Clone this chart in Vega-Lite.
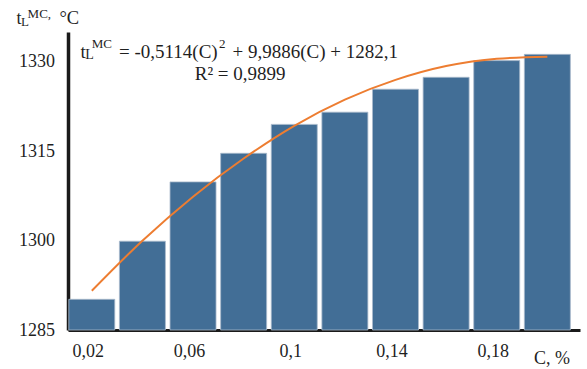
{
  "$schema": "https://vega.github.io/schema/vega-lite/v6.json",
  "width": 512,
  "height": 298,
  "autosize": {"type": "none"},
  "padding": {"left": 68, "top": 32, "right": 7, "bottom": 39},
  "background": "white",
  "config": {
    "view": {"stroke": null},
    "font": "Liberation Serif",
    "axis": {"labelFont": "Liberation Serif", "titleFont": "Liberation Serif"},
    "text": {"font": "Liberation Serif", "color": "#1f1f1f", "align": "left", "baseline": "alphabetic"}
  },
  "datasets": {
    "melt": [
      {"C": 0.02, "t": 1290.15},
      {"C": 0.04, "t": 1299.9},
      {"C": 0.06, "t": 1309.85},
      {"C": 0.08, "t": 1314.65},
      {"C": 0.10, "t": 1319.5},
      {"C": 0.12, "t": 1321.55},
      {"C": 0.14, "t": 1325.4},
      {"C": 0.16, "t": 1327.4},
      {"C": 0.18, "t": 1330.2},
      {"C": 0.20, "t": 1331.25}
    ],
    "trend": [
      {"C": 0.02, "t": 1291.58},
      {"C": 0.04, "t": 1299.98},
      {"C": 0.06, "t": 1307.37},
      {"C": 0.08, "t": 1313.77},
      {"C": 0.10, "t": 1319.26},
      {"C": 0.12, "t": 1323.65},
      {"C": 0.14, "t": 1326.96},
      {"C": 0.16, "t": 1329.28},
      {"C": 0.18, "t": 1330.52},
      {"C": 0.20, "t": 1330.85}
    ]
  },
  "layer": [
    {
      "data": {"name": "melt"},
      "mark": {"type": "bar", "width": 46, "color": "#426e96", "stroke": "#a9bacb", "strokeWidth": 0.8},
      "encoding": {
        "x": {
          "field": "C",
          "type": "quantitative",
          "scale": {"domain": [0.0106, 0.2129], "nice": false, "zero": false, "padding": 0},
          "axis": {
            "title": "C, %",
            "values": [0.02, 0.06, 0.1, 0.14, 0.18],
            "labelExpr": "replace(format(datum.value, '.2~f'), '.', ',')",
            "ticks": false,
            "grid": false,
            "domainColor": "#1a1a1a",
            "domainWidth": 3,
            "labelFont": "Liberation Serif",
            "labelFontSize": 18,
            "labelColor": "#1f1f1f",
            "labelBaseline": "alphabetic",
            "labelPadding": 26,
            "labelOffset": -4,
            "labelFlush": false,
            "titleFont": "Liberation Serif",
            "titleFontSize": 18,
            "titleFontWeight": "normal",
            "titleColor": "#1f1f1f",
            "titleX": 483.5,
            "titleY": 33,
            "titleAlign": "center",
            "titleBaseline": "alphabetic"
          }
        },
        "y": {
          "field": "t",
          "type": "quantitative",
          "scale": {"domain": [1285, 1335], "nice": false, "zero": false, "padding": 0},
          "axis": {
            "title": null,
            "values": [1285, 1300, 1315, 1330],
            "format": "d",
            "ticks": false,
            "grid": false,
            "domainColor": "#1a1a1a",
            "domainWidth": 3.5,
            "labelFont": "Liberation Serif",
            "labelFontSize": 18,
            "labelColor": "#1f1f1f",
            "labelPadding": 13.5,
            "labelFlush": false
          }
        },
        "y2": {"datum": 1285}
      }
    },
    {
      "data": {"name": "trend"},
      "mark": {"type": "line", "color": "#ed7d31", "strokeWidth": 2, "interpolate": "monotone"},
      "encoding": {
        "x": {"field": "C", "type": "quantitative"},
        "y": {"field": "t", "type": "quantitative"}
      }
    },
    {
      "data": {"values": [{}]},
      "layer": [
        {"mark": {"type": "text", "fontSize": 18, "dx": 0}, "encoding": {"text": {"value": "t"}}},
        {"mark": {"type": "text", "fontSize": 13, "dx": 4.6, "dy": 1.5}, "encoding": {"text": {"value": "L"}}},
        {"mark": {"type": "text", "fontSize": 13, "dx": 11.2, "dy": -5.7}, "encoding": {"text": {"value": "MC,"}}},
        {"mark": {"type": "text", "fontSize": 18.5, "dx": 43, "dy": 0}, "encoding": {"text": {"value": "°C"}}}
      ],
      "encoding": {
        "x": {"datum": -0.00979, "type": "quantitative"},
        "y": {"datum": 1336.34, "type": "quantitative"}
      }
    },
    {
      "data": {"values": [{}]},
      "layer": [
        {"mark": {"type": "text", "fontSize": 19, "dx": 0}, "encoding": {"text": {"value": "t"}}},
        {"mark": {"type": "text", "fontSize": 14, "dx": 4.8, "dy": 1.2}, "encoding": {"text": {"value": "L"}}},
        {"mark": {"type": "text", "fontSize": 13, "dx": 11.2, "dy": -9.5}, "encoding": {"text": {"value": "MC"}}},
        {"mark": {"type": "text", "fontSize": 19, "dx": 38.5}, "encoding": {"text": {"value": "= -0,5114(C)"}}},
        {"mark": {"type": "text", "fontSize": 13, "dx": 138.5, "dy": -9.5}, "encoding": {"text": {"value": "2"}}},
        {"mark": {"type": "text", "fontSize": 19, "dx": 152}, "encoding": {"text": {"value": "+ 9,9886(C) + 1282,1"}}},
        {"mark": {"type": "text", "fontSize": 19, "dx": 114.2, "dy": 22}, "encoding": {"text": {"value": "R² = 0,9899"}}}
      ],
      "encoding": {
        "x": {"datum": 0.01554, "type": "quantitative"},
        "y": {"datum": 1330.72, "type": "quantitative"}
      }
    }
  ]
}
